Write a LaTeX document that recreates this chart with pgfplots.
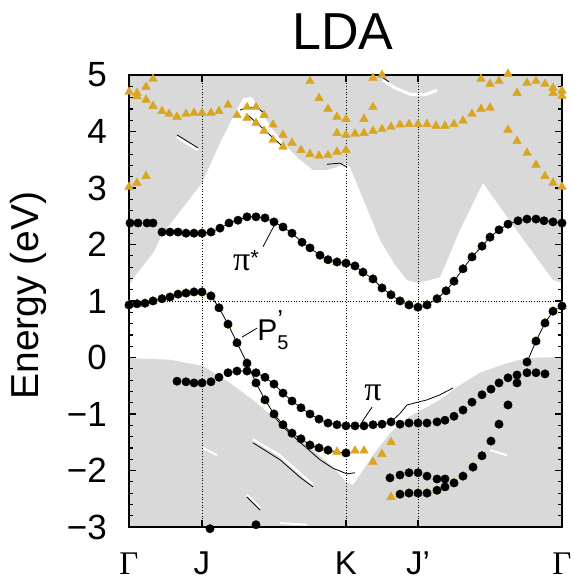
\documentclass[border=0pt]{standalone}
\usepackage{pgfplots}
\pgfplotsset{compat=1.18}
\usepackage{fontspec}
\setmainfont{Liberation Sans}
\newfontfamily\serifgr{Liberation Serif}
\definecolor{bulk}{RGB}{217,217,217}
\definecolor{gold}{RGB}{218,165,32}

\begin{document}
\begin{tikzpicture}
\useasboundingbox (-129pt,-54pt) rectangle (444pt,527pt);
\begin{axis}[
  at={(0pt,0pt)}, anchor=south west,
  scale only axis, width=433pt, height=452pt,
  xmin=0, xmax=433, ymin=-3, ymax=5,
  clip=false, axis on top,
  axis line style={line width=1.8pt},
  xtick={0,73,217,289,433},
  xticklabels={{\serifgr\fontsize{33}{33}\selectfont Γ},J,K,J’,{\serifgr\fontsize{33}{33}\selectfont Γ}},
  ytick={-3,-2,-1,0,1,2,3,4,5},
  yticklabels={−3,−2,−1,0,1,2,3,4,5},
  minor y tick num=4,
  tick align=inside, xtick pos=both, ytick pos=both, ticklabel pos=left,
  major tick length=7pt, minor tick length=4pt,
  every major tick/.style={black, line width=1.6pt},
  every minor tick/.style={black, line width=1.2pt},
  xticklabel style={font=\fontsize{33}{33}\selectfont, anchor=base, inner sep=0pt, yshift=-47pt},
  yticklabel style={font=\fontsize{35}{35}\selectfont, anchor=east, inner sep=0pt, xshift=-22pt},
  ylabel={Energy (eV)},
  ylabel style={font=\fontsize{39}{39}\selectfont, at={(axis description cs:-0.2333,0.512)}, anchor=center},
]
% bulk projected bands
\addplot[fill=bulk, draw=none] coordinates {
 (0,5) (0,1.28) (8,1.49) (24,1.85) (34,2.2) (73,3.09) (91,3.80) (104,4.26) (114,4.59)
 (123,4.61) (131,4.38) (144,4.03) (158,3.73) (171,3.50) (184,3.32) (198,3.32) (208,3.37)
 (217,3.44) (221,3.37) (251,2.08) (266,1.64) (278,1.37) (289,1.32) (311,1.42) (331,2.26)
 (354,3.09) (391,2.17) (424,1.37) (433,1.32) (433,5)};
\addplot[fill=bulk, draw=none] coordinates {
 (0,-3) (0,-0.01) (41,-0.04) (74,-0.15) (101,-0.45) (124,-0.75) (144,-1.05) (164,-1.34)
 (184,-1.64) (204,-1.94) (217,-2.20) (224,-2.26) (244,-1.73) (261,-1.34) (278,-1.07)
 (311,-0.75) (328,-0.52) (351,-0.27) (378,-0.10) (398,-0.01) (433,0.01) (433,-3)};
% white slivers
\addplot[white, line width=2.5pt] coordinates {(48,3.90) (69,3.67)};
\addplot[white, line width=3pt] coordinates {(254,4.91) (266,4.77) (281,4.66) (296,4.65) (308,4.73)};
\addplot[white, line width=2pt] coordinates {(74,-1.60) (88,-1.73)};
\addplot[white, line width=2.2pt] coordinates {(124,-1.45) (150,-1.72) (171,-2.05) (184,-2.25)};
\addplot[white, line width=2pt] coordinates {(118,-2.43) (131,-2.66)};
\addplot[white, line width=2pt] coordinates {(151,-2.93) (178,-2.96)};
\addplot[white, line width=2pt] coordinates {(361,-1.64) (378,-1.73)};
% guide lines
\addplot[black, dotted, line width=0.7pt] coordinates {(73,-3) (73,5)};
\addplot[black, dotted, line width=0.7pt] coordinates {(217,-3) (217,5)};
\addplot[black, dotted, line width=0.7pt] coordinates {(289,-3) (289,5)};
\addplot[black, dotted, line width=0.7pt] coordinates {(0,1) (433,1)};
% thin LDA lines
\addplot[black, line width=0.8pt] coordinates {(48,3.94) (69,3.71)};
\addplot[black, line width=0.8pt] coordinates {(111,4.38) (118,4.42) (128,4.42) (138,4.29)};
\addplot[black, line width=0.8pt] coordinates {(119,4.29) (154,3.73)};
\addplot[black, line width=0.8pt] coordinates {(198,3.42) (211,3.44) (218,3.37)};
\addplot[black, line width=0.8pt] coordinates {(254,4.95) (260,4.88)};
\addplot[black, line width=0.8pt] coordinates {(124,-1.51) (151,-1.81) (171,-2.12) (184,-2.29)};
\addplot[black, line width=0.8pt] coordinates {(118,-2.47) (131,-2.70)};
\addplot[black, line width=0.8pt] coordinates {(144,-1.02) (154,-1.23) (171,-1.50) (191,-1.81) (204,-1.96) (218,-2.06) (226,-2.04)};
\addplot[black, line width=0.8pt] coordinates {(217,-1.21) (226,-1.21) (235,-1.21) (244,-1.19) (253,-1.18) (262,-1.14) (271,-0.99) (278,-0.84) (289,-0.79) (298,-0.75) (311,-0.66) (324,-0.54)};
% orange triangles (upper bands)
\addplot[only marks, mark=triangle*, mark size=5pt, color=gold] coordinates {
 (0,4.70) (8,4.68) (8,4.62) (17,4.79) (24,4.93) (17,4.56) (24,4.45) (33,4.36) (40,4.31)
 (48,4.26) (57,4.31) (65,4.33) (73,4.33) (82,4.33) (90,4.36) (99,4.47) (108,4.29)
 (118,4.43) (118,4.24) (127,4.43) (127,4.15) (135,4.29) (135,4.01) (144,4.12) (144,3.85)
 (154,3.94) (154,3.73) (163,3.80) (172,3.67) (181,3.60) (190,3.57) (199,3.58) (208,3.64)
 (217,3.67) (181,4.89) (190,4.59) (199,4.40) (208,4.26) (217,4.22) (208,3.97) (217,3.94)
 (0,3.02) (8,3.09) (17,3.21)
 (244,4.95) (253,5.0) (226,3.96) (235,3.97) (244,4.01) (253,4.04) (262,4.08) (271,4.12)
 (280,4.13) (289,4.13) (298,4.13) (307,4.10) (316,4.10) (325,4.13) (334,4.19) (343,4.31)
 (352,4.40) (361,4.42) (235,4.22) (244,4.43) (352,4.93) (361,4.84) (370,4.89) (379,5.02)
 (388,4.68) (398,4.86) (407,4.89) (416,4.84) (424,4.77) (424,4.68) (433,4.72) (433,4.63)
 (379,4.03) (388,3.83) (398,3.62) (407,3.41) (416,3.21) (424,3.09) (433,3.02)};
% orange triangles under surface-band dots and alone
\addplot[only marks, mark=triangle*, mark size=5pt, color=gold] coordinates {
 (57,2.20) (65,2.20) (73,2.20) (82,2.22)
 (199,1.73) (208,1.69) (217,1.67) (226,1.62) (234,1.51) (244,1.39) (253,1.23) (262,1.11)
 (271,1.00) (280,0.93) (289,0.89) (298,0.93) (308,1.04) (317,1.18) (325,1.35) (334,1.57)
 (343,1.78) (353,1.97) (361,2.13)
 (0,0.93) (8,0.95) (16,0.96) (24,1.00) (33,1.04) (41,1.07) (49,1.12) (57,1.14) (65,1.16)
 (73,1.16) (82,1.09) (90,0.88) (99,0.59) (108,0.26) (118,-0.10) (127,-0.45) (136,-0.75)
 (145,-1.00) (154,-1.19) (163,-1.34) (172,-1.44) (181,-1.55) (190,-1.60) (199,-1.64)
 (208,-1.67) (217,-1.69) (226,-1.65) (235,-1.65)
 (244,-1.85) (253,-1.71) (262,-1.50) (262,-2.47)
 (398,-0.08) (407,0.29) (416,0.61) (424,0.82) (433,0.91)
 (271,-2.42) (280,-2.40) (289,-2.40) (298,-2.40) (308,-2.35) (316,-2.29) (325,-2.22)
 (334,-2.10) (344,-1.94) (353,-1.74) (362,-1.48) (370,-1.18) (379,-0.84) (388,-0.45)};
% surface bands: connecting lines
\addplot[black, line width=0.8pt] coordinates {
 (33,2.22) (41,2.22) (49,2.22) (57,2.20) (65,2.20) (73,2.20) (82,2.22) (91,2.29) (100,2.38)
 (109,2.43) (118,2.49) (127,2.49) (136,2.47) (145,2.40) (154,2.31) (163,2.20) (173,2.04)
 (181,1.94) (191,1.81) (199,1.73) (208,1.69) (217,1.67) (226,1.62) (234,1.51) (244,1.39)
 (253,1.23) (262,1.11) (271,1.00) (280,0.93) (289,0.89) (298,0.93) (308,1.04) (317,1.18)
 (325,1.35) (334,1.57) (343,1.78) (353,1.97) (361,2.13) (370,2.26) (379,2.36) (389,2.42)
 (398,2.45) (407,2.45) (415,2.42) (424,2.40) (433,2.38)};
\addplot[black, line width=0.8pt] coordinates {
 (0,0.93) (8,0.95) (16,0.96) (24,1.00) (33,1.04) (41,1.07) (49,1.12) (57,1.14) (65,1.16)
 (73,1.16) (82,1.09) (90,0.88) (99,0.59) (108,0.26) (118,-0.10) (127,-0.45) (136,-0.75)
 (145,-1.00) (154,-1.19) (163,-1.34) (172,-1.44) (181,-1.55) (190,-1.60) (199,-1.64)
 (208,-1.67) (217,-1.69)};
\addplot[black, line width=0.8pt] coordinates {(398,-0.08) (407,0.29) (416,0.61) (424,0.82) (433,0.91)};
\addplot[black, line width=0.8pt] coordinates {
 (99,-0.27) (108,-0.24) (118,-0.24) (127,-0.27) (136,-0.35) (145,-0.47) (154,-0.63)
 (163,-0.77) (172,-0.89) (181,-1.00) (190,-1.09) (199,-1.16) (208,-1.19) (217,-1.21)};
% surface bands: dots
\addplot[only marks, mark=*, mark size=4.2pt, black] coordinates {
 (1,2.38) (9,2.38) (18,2.38) (24,2.38)
 (33,2.22) (41,2.22) (49,2.22) (57,2.20) (65,2.20) (73,2.20) (82,2.22) (91,2.29) (100,2.38)
 (109,2.43) (118,2.49) (127,2.49) (136,2.47) (145,2.40) (154,2.31) (163,2.20) (173,2.04)
 (181,1.94) (191,1.81) (199,1.73) (208,1.69) (217,1.67) (226,1.62) (234,1.51) (244,1.39)
 (253,1.23) (262,1.11) (271,1.00) (280,0.93) (289,0.89) (298,0.93) (308,1.04) (317,1.18)
 (325,1.35) (334,1.57) (343,1.78) (353,1.97) (361,2.13) (370,2.26) (379,2.36) (389,2.42)
 (398,2.45) (407,2.45) (415,2.42) (424,2.40) (433,2.38)};
\addplot[only marks, mark=*, mark size=4.2pt, black] coordinates {
 (0,0.93) (8,0.95) (16,0.96) (24,1.00) (33,1.04) (41,1.07) (49,1.12) (57,1.14) (65,1.16)
 (73,1.16) (82,1.09) (90,0.88) (99,0.59) (108,0.26) (118,-0.10) (127,-0.45) (136,-0.75)
 (145,-1.00) (154,-1.19) (163,-1.34) (172,-1.44) (181,-1.55) (190,-1.60) (199,-1.64)
 (217,-1.69)
 (398,-0.08) (407,0.29) (416,0.61) (424,0.82) (433,0.91)};
\addplot[only marks, mark=*, mark size=4.2pt, black] coordinates {
 (48,-0.42) (57,-0.43) (65,-0.45) (73,-0.45) (82,-0.43) (90,-0.35) (99,-0.27) (108,-0.24)
 (118,-0.24) (127,-0.27) (136,-0.35) (145,-0.47) (154,-0.63) (163,-0.77) (172,-0.89)
 (181,-1.00) (190,-1.09) (199,-1.16) (208,-1.19) (217,-1.21) (226,-1.21) (235,-1.21)
 (244,-1.19) (253,-1.18) (262,-1.14) (271,-1.18) (280,-1.16) (289,-1.16) (298,-1.16)
 (308,-1.14) (316,-1.11) (325,-1.04) (334,-0.93) (343,-0.79) (353,-0.66) (362,-0.56)
 (370,-0.45) (379,-0.36) (388,-0.31) (398,-0.27) (407,-0.27) (416,-0.29)};
\addplot[only marks, mark=*, mark size=4.2pt, black] coordinates {
 (271,-2.42) (280,-2.40) (289,-2.40) (298,-2.40) (308,-2.35) (316,-2.29) (325,-2.22)
 (334,-2.10) (344,-1.94) (353,-1.74) (362,-1.48) (370,-1.18) (379,-0.84) (388,-0.45)
 (261,-2.13) (271,-2.08) (280,-2.04) (289,-2.04) (298,-2.10) (308,-2.15) (316,-2.15)
 (81,-3.03) (127,-2.96)};
% band labels
\addplot[black, line width=0.8pt] coordinates {(134,1.96) (145,2.33)};
\addplot[black, line width=0.8pt] coordinates {(113,0.36) (128,0.52)};
\addplot[black, line width=0.8pt] coordinates {(233,-1.14) (243,-0.88)};
\node[anchor=center, inner sep=0pt] at (axis cs:117,1.72) {{\serifgr\fontsize{34}{34}\selectfont π}\raisebox{0.5em}{\fontsize{22}{22}\selectfont *}};
\node[anchor=center, inner sep=0pt] at (axis cs:144,0.49) {\fontsize{30}{30}\selectfont P\rlap{\raisebox{0.42em}{\fontsize{26}{26}\selectfont ’}}\raisebox{-0.28em}{\fontsize{20}{20}\selectfont 5}};
\node[anchor=center, inner sep=0pt] at (axis cs:244,-0.62) {\serifgr\fontsize{34}{34}\selectfont π};
\node[anchor=base, inner sep=0pt] at (axis cs:214,5.46) {\fontsize{52}{52}\selectfont LDA};
\end{axis}
\end{tikzpicture}
\end{document}
